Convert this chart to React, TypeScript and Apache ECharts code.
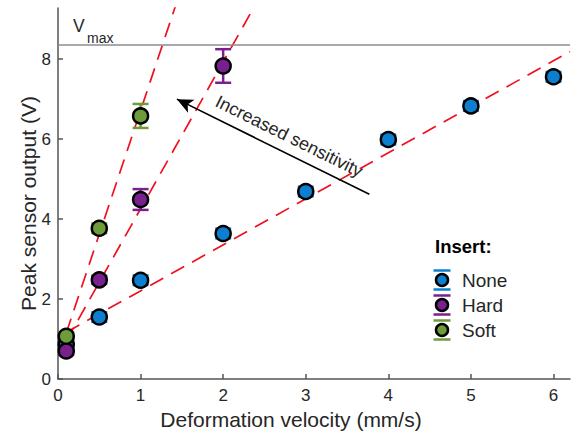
import React, { useEffect, useRef } from "react";
import * as echarts from "echarts";

// ---- data ----
const noneX = [0.1, 0.5, 1, 2, 3, 4, 5, 6];
const noneY = [0.87, 1.55, 2.47, 3.64, 4.69, 5.99, 6.83, 7.56];
const noneErr = [0.12, 0.12, 0.12, 0.12, 0.12, 0.12, 0.12, 0.12];

const hardX = [0.1, 0.5, 1, 2];
const hardY = [0.7, 2.48, 4.49, 7.83];
const hardErr = [0.1, 0.1, 0.26, 0.42];

const softX = [0.1, 0.5, 1];
const softY = [1.07, 3.77, 6.58];
const softErr = [0.1, 0.12, 0.3];

// fitted dashed lines (end points)
const noneFit = [[0.1, 1.17], [6.2, 8.19]];
const hardFit = [[0.1, 0.95], [2.4, 9.4]];
const softFit = [[0.1, 1.15], [1.45, 9.5]];

const vMax = 8.35;
const arrowFrom = [3.77, 4.62];
const arrowTo = [1.44, 7.0];
const arrowTextAt = [2.8, 6.07];

const xTicks = { min: 0, max: 6.2, interval: 1 };
const yTicks = { min: 0, max: 9.28, interval: 2 };

const seriesNames = ["None", "Hard", "Soft"];
const colors = ["#0d7fd0", "#7a1f8e", "#6e9c3a"];

const FONT = "'Liberation Sans', Arial, Helvetica, sans-serif";
const TXT = "#262626";

function pts(xs: number[], ys: number[]) {
  return xs.map((x, i) => [x, ys[i]]);
}
function errPts(xs: number[], ys: number[], es: number[]) {
  return xs.map((x, i) => [x, ys[i], es[i]]);
}

function errSeries(name: string, color: string, data: number[][]) {
  return {
    type: "custom",
    name: name + "-err",
    z: 3,
    silent: true,
    data,
    renderItem: (params: any, api: any) => {
      const x = api.value(0);
      const y = api.value(1);
      const e = api.value(2);
      const top = api.coord([x, y + e]);
      const bot = api.coord([x, y - e]);
      const hw = 8;
      const st = { stroke: color, lineWidth: 2.5 };
      return {
        type: "group",
        children: [
          { type: "line", shape: { x1: top[0], y1: top[1], x2: bot[0], y2: bot[1] }, style: st },
          { type: "line", shape: { x1: top[0] - hw, y1: top[1], x2: top[0] + hw, y2: top[1] }, style: st },
          { type: "line", shape: { x1: bot[0] - hw, y1: bot[1], x2: bot[0] + hw, y2: bot[1] }, style: st },
        ],
      };
    },
  };
}

function fitSeries(data: number[][]) {
  return {
    type: "line",
    data,
    symbol: "none",
    silent: true,
    clip: true,
    z: 2,
    lineStyle: { color: "#f01020", width: 1.7, type: [15, 9] },
  };
}

function scatter(name: string, color: string, data: number[][]) {
  return {
    type: "scatter",
    name,
    data,
    symbol: "circle",
    symbolSize: 15,
    z: 5,
    itemStyle: { color, borderColor: "#000", borderWidth: 2.5, opacity: 1 },
  };
}

export default function App() {
  const ref = useRef<HTMLDivElement>(null);
  useEffect(() => {
    if (!ref.current) return;
    const chart = echarts.init(ref.current, null, { renderer: "svg" });
    const option: any = {
      animation: false,
      backgroundColor: "#fff",
      grid: { left: 58, top: 8, right: 1, bottom: 55, containLabel: false },
      xAxis: {
        type: "value",
        min: xTicks.min,
        max: xTicks.max,
        interval: xTicks.interval,
        name: "Deformation velocity (mm/s)",
        nameLocation: "middle",
        nameGap: 30,
        nameMoveOverlap: false,
        nameTextStyle: { fontFamily: FONT, fontSize: 21, color: TXT, padding: [0, 46, 0, 0] },
        axisLine: { show: true, lineStyle: { color: "#555", width: 1.5 } },
        axisTick: { show: true, inside: true, length: 5, lineStyle: { color: "#555", width: 1.5 } },
        axisLabel: { fontFamily: FONT, fontSize: 17, color: TXT, margin: 8, showMaxLabel: false },
        splitLine: { show: false },
      },
      yAxis: {
        type: "value",
        min: yTicks.min,
        max: yTicks.max,
        interval: yTicks.interval,
        name: "Peak sensor output (V)",
        nameLocation: "middle",
        nameGap: 19,
        nameMoveOverlap: false,
        nameTextStyle: { fontFamily: FONT, fontSize: 21, color: TXT, padding: [0, 20, 0, 0] },
        axisLine: { show: true, lineStyle: { color: "#555", width: 1.5 } },
        axisTick: { show: true, inside: true, length: 5, lineStyle: { color: "#555", width: 1.5 } },
        axisLabel: { fontFamily: FONT, fontSize: 17, color: TXT, margin: 7, showMaxLabel: false },
        splitLine: { show: false },
      },
      series: [
        {
          type: "line",
          data: [],
          silent: true,
          markLine: {
            silent: true,
            symbol: ["none", "none"],
            label: { show: false },
            lineStyle: { color: "#8c8c8c", width: 1.5, type: "solid" },
            data: [{ yAxis: vMax }],
          },
        },
        {
          type: "line",
          data: [],
          silent: true,
          markLine: {
            silent: true,
            symbol: ["none", "arrow"],
            symbolSize: [11, 16],
            label: { show: false },
            lineStyle: { color: "#000", width: 1.6, type: "solid" },
            data: [[{ coord: arrowFrom }, { coord: arrowTo }]],
          },
        },
        fitSeries(noneFit),
        fitSeries(hardFit),
        fitSeries(softFit),
        errSeries(seriesNames[0], colors[0], errPts(noneX, noneY, noneErr)),
        scatter(seriesNames[0], colors[0], pts(noneX, noneY)),
        errSeries(seriesNames[1], colors[1], errPts(hardX, hardY, hardErr)),
        scatter(seriesNames[1], colors[1], pts(hardX, hardY)),
        errSeries(seriesNames[2], colors[2], errPts(softX, softY, softErr)),
        scatter(seriesNames[2], colors[2], pts(softX, softY)),
      ],
    };
    chart.setOption(option);

    const tp = chart.convertToPixel({ gridIndex: 0 }, arrowTextAt) as number[];
    const a0 = chart.convertToPixel({ gridIndex: 0 }, arrowFrom) as number[];
    const a1 = chart.convertToPixel({ gridIndex: 0 }, arrowTo) as number[];
    const ang = Math.atan2(a0[1] - a1[1], a0[0] - a1[0]);

    const legendItems: any[] = [];
    const legY0 = 280;
    seriesNames.forEach((n, i) => {
      const cy = legY0 + i * 25;
      const cx = 442;
      legendItems.push(
        { type: "line", shape: { x1: cx - 8.5, y1: cy - 9.5, x2: cx + 8.5, y2: cy - 9.5 }, style: { stroke: colors[i], lineWidth: 2.5 } },
        { type: "line", shape: { x1: cx - 8.5, y1: cy + 9.5, x2: cx + 8.5, y2: cy + 9.5 }, style: { stroke: colors[i], lineWidth: 2.5 } },
        { type: "circle", shape: { cx, cy, r: 6 }, style: { fill: colors[i], stroke: "#000", lineWidth: 2.5 } },
        {
          type: "text",
          x: 462,
          y: cy,
          style: { text: n, fontFamily: FONT, fontSize: 19, fill: TXT, verticalAlign: "middle" },
        }
      );
    });

    chart.setOption({
      graphic: [
        {
          type: "text",
          x: 435,
          y: 246,
          style: { text: "Insert:", fontFamily: FONT, fontSize: 18.5, fontWeight: "bold", fill: "#000", verticalAlign: "middle" },
        },
        ...legendItems,
        {
          type: "text",
          x: 73,
          y: 35,
          style: { text: "V", fontFamily: FONT, fontSize: 17.5, fill: TXT, verticalAlign: "bottom" },
        },
        {
          type: "text",
          x: 87,
          y: 45,
          style: { text: "max", fontFamily: FONT, fontSize: 14, fill: TXT, verticalAlign: "bottom" },
        },
        {
          type: "text",
          x: tp[0],
          y: tp[1],
          rotation: -ang,
          style: {
            text: "Increased sensitivity",
            fontFamily: FONT,
            fontSize: 18,
            fill: TXT,
            align: "center",
            verticalAlign: "middle",
          },
        },
      ],
    });
    return () => chart.dispose();
  }, []);
  return (
    <div
      ref={ref}
      style={{ position: "fixed", left: 0, top: 0, width: 571, height: 435, background: "#fff" }}
    />
  );
}
